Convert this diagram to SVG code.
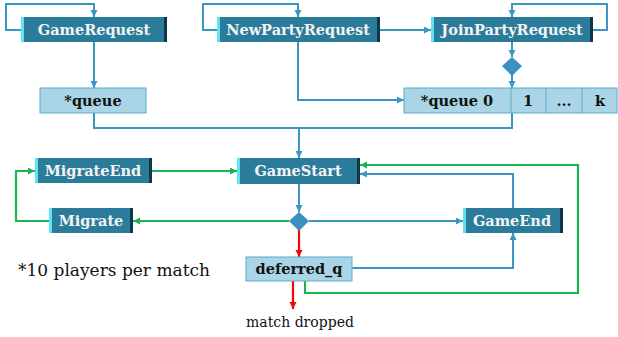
<svg xmlns="http://www.w3.org/2000/svg" width="618" height="337" viewBox="0 0 618 337">
<style>
.dk{fill:#2b7b9b}
.hl{fill:#5fe3f3}
.sh{fill:#0f3747}
.lt{fill:#a9d5e7;stroke:#5aaacb;stroke-width:1}
.tw{font-family:"DejaVu Serif",serif;font-weight:bold;font-size:14.5px;fill:#f4f4f4;text-anchor:middle}
.tb{font-family:"DejaVu Serif",serif;font-weight:bold;font-size:14.5px;fill:#111;text-anchor:middle}
.b{fill:none;stroke:#3b96c1;stroke-width:2}
.g{fill:none;stroke:#1ab551;stroke-width:2.2}
.r{fill:none;stroke:#ff0000;stroke-width:2.2}
.dia{fill:#3a90bf}
</style>
<defs>
<marker id="ab" markerUnits="userSpaceOnUse" markerWidth="8" markerHeight="8" refX="7" refY="3.5" orient="auto"><path d="M0,0 L7,3.5 L0,7 z" fill="#3b96c1"/></marker>
<marker id="ag" markerUnits="userSpaceOnUse" markerWidth="8" markerHeight="8" refX="7" refY="3.5" orient="auto"><path d="M0,0 L7,3.5 L0,7 z" fill="#1ab551"/></marker>
<marker id="ar" markerUnits="userSpaceOnUse" markerWidth="8" markerHeight="8" refX="7" refY="3.5" orient="auto"><path d="M0,0 L7,3.5 L0,7 z" fill="#ff0000"/></marker>
</defs>
<rect width="618" height="337" fill="#fff"/>
<g id="connectors">
<path class="b" d="M21,30 H6 V4 H94 V17" marker-end="url(#ab)"/>
<path class="b" d="M94,42 V88" marker-end="url(#ab)"/>
<path class="b" d="M94,113 V128 H512 V113"/>
<path class="b" d="M299,128 V158" marker-end="url(#ab)"/>
<path class="b" d="M217,30 H203 V4 H298 V17" marker-end="url(#ab)"/>
<path class="b" d="M298,42 V100 H404" marker-end="url(#ab)"/>
<path class="b" d="M380,30 H431" marker-end="url(#ab)"/>
<path class="b" d="M593,30 H607 V4 H512 V17" marker-end="url(#ab)"/>
<path class="b" d="M512,42 V57" marker-end="url(#ab)"/>
<path class="b" d="M512,75 V88" marker-end="url(#ab)"/>
<path class="b" d="M299,184 V212" marker-end="url(#ab)"/>
<path class="g" d="M289,221 H133" marker-end="url(#ag)"/>
<path class="b" d="M309,221 H463" marker-end="url(#ab)"/>
<path class="r" d="M299,230 V257" marker-end="url(#ar)"/>
<path class="g" d="M49,221 H16 V171 H35" marker-end="url(#ag)"/>
<path class="g" d="M152,171 H237" marker-end="url(#ag)"/>
<path class="b" d="M513,208 V174 H360" marker-end="url(#ab)"/>
<path class="b" d="M352,268 H513 V233" marker-end="url(#ab)"/>
<path class="g" d="M305,281 V293 H578 V165 H360" marker-end="url(#ag)"/>
<path class="r" d="M293,281 V309" marker-end="url(#ar)"/>
<path class="dia" d="M512,57 L522,66 L512,76 L502,66 z"/>
<path class="dia" d="M299,212 L309,221 L299,231 L289,221 z"/>
</g>
<g id="GameRequest"><rect class="dk" x="21" y="17" width="146" height="25"/><rect class="hl" x="21" y="17" width="3" height="25"/><rect class="sh" x="164" y="17" width="3" height="25"/><text class="tw" x="94" y="35">GameRequest</text></g>
<g id="NewPartyRequest"><rect class="dk" x="217" y="17" width="163" height="25"/><rect class="hl" x="217" y="17" width="3" height="25"/><rect class="sh" x="377" y="17" width="3" height="25"/><text class="tw" x="298" y="35">NewPartyRequest</text></g>
<g id="JoinPartyRequest"><rect class="dk" x="431" y="17" width="162" height="25"/><rect class="hl" x="431" y="17" width="3" height="25"/><rect class="sh" x="590" y="17" width="3" height="25"/><text class="tw" x="512" y="35">JoinPartyRequest</text></g>
<g id="queue"><rect class="lt" x="40" y="88" width="106" height="25"/><text class="tb" x="93" y="106">*queue</text></g>
<g id="queues"><rect class="lt" x="404" y="88" width="213" height="25"/><path d="M511,88 V113 M546,88 V113 M582,88 V113" stroke="#5aaacb" stroke-width="1"/><text class="tb" x="457" y="106">*queue 0</text><text class="tb" x="528" y="106">1</text><text class="tb" x="564" y="106">...</text><text class="tb" x="600" y="106">k</text></g>
<g id="MigrateEnd"><rect class="dk" x="35" y="158" width="117" height="25"/><rect class="hl" x="35" y="158" width="3" height="25"/><rect class="sh" x="149" y="158" width="3" height="25"/><text class="tw" x="93" y="176">MigrateEnd</text></g>
<g id="GameStart"><rect class="dk" x="237" y="158" width="123" height="26"/><rect class="hl" x="237" y="158" width="3" height="26"/><rect class="sh" x="357" y="158" width="3" height="26"/><text class="tw" x="298" y="176">GameStart</text></g>
<g id="Migrate"><rect class="dk" x="49" y="208" width="84" height="25"/><rect class="hl" x="49" y="208" width="3" height="25"/><rect class="sh" x="130" y="208" width="3" height="25"/><text class="tw" x="91" y="226">Migrate</text></g>
<g id="GameEnd"><rect class="dk" x="463" y="208" width="100" height="25"/><rect class="hl" x="463" y="208" width="3" height="25"/><rect class="sh" x="560" y="208" width="3" height="25"/><text class="tw" x="512" y="226">GameEnd</text></g>
<g id="deferred_q"><rect class="lt" x="246" y="257" width="106" height="24"/><text class="tb" x="299" y="274">deferred_q</text></g>
<g id="labels">
<text x="18" y="276" font-family="DejaVu Serif, serif" font-size="17" fill="#111">*10 players per match</text>
<text x="300" y="327" font-family="DejaVu Serif, serif" font-size="14" fill="#111" text-anchor="middle">match dropped</text>
</g>
</svg>
